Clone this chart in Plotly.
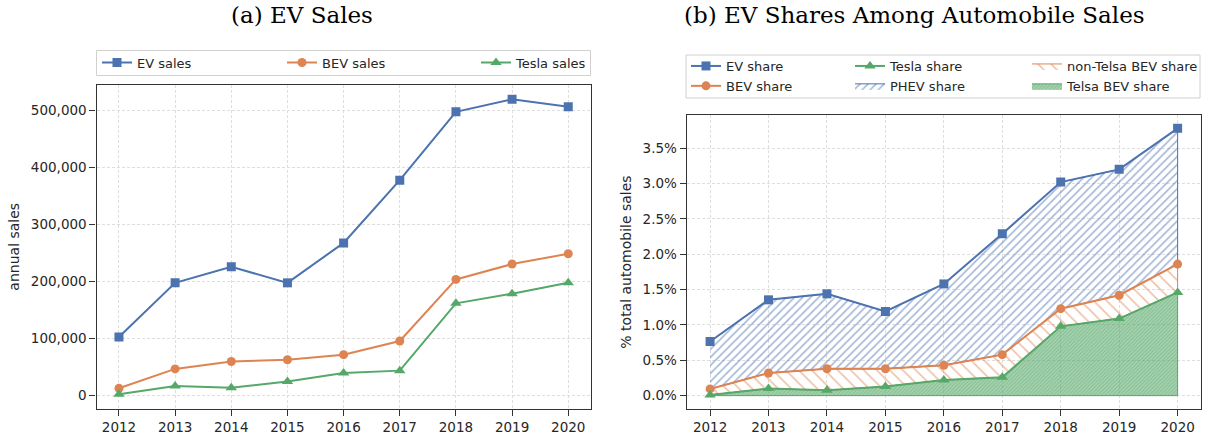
import plotly.graph_objects as go

# ---------------- data ----------------
years = [2012, 2013, 2014, 2015, 2016, 2017, 2018, 2019, 2020]

ev_sales = [103000, 198000, 226000, 198000, 268000, 378000, 498000, 520000, 507000]
bev_sales = [13000, 47000, 60000, 63000, 72000, 96000, 204000, 231000, 249000]
tesla_sales = [2600, 17000, 14000, 25000, 40000, 44000, 162000, 179000, 198000]

# shares as fractions of total automobile sales
ev_share = [0.00765, 0.01355, 0.0144, 0.0119, 0.0158, 0.0229, 0.0302, 0.0320, 0.0378]
bev_share = [0.00095, 0.0032, 0.0038, 0.0038, 0.0043, 0.0058, 0.0123, 0.0142, 0.0186]
tesla_share = [0.0001, 0.0010, 0.00075, 0.0013, 0.0022, 0.0026, 0.0098, 0.0109, 0.0146]
baseline = [0.0] * len(years)

sales_ticks = [0, 100000, 200000, 300000, 400000, 500000]
share_ticks = [0.0, 0.005, 0.010, 0.015, 0.020, 0.025, 0.030, 0.035]

# ---------------- styling ----------------
W, H = 1208, 437
BLUE, ORANGE, GREEN = "#4C72B0", "#DD8452", "#55A868"
TXT = "#262626"
FRAME = "#333333"
FONT = "DejaVu Sans"


def px(x):
    return x / W


def py(y):
    return 1 - y / H


fig = go.Figure()

# ---------- left panel ----------
line_specs = [
    ("EV sales", ev_sales, BLUE, "square", 9, "legend"),
    ("BEV sales", bev_sales, ORANGE, "circle", 9, "legend2"),
    ("Tesla sales", tesla_sales, GREEN, "triangle-up", 10, "legend3"),
]
for name, vals, col, sym, sz, lg in line_specs:
    fig.add_trace(go.Scatter(
        x=years, y=vals, name=name, mode="lines+markers",
        line=dict(color=col, width=2),
        marker=dict(symbol=sym, size=sz, color=col),
        xaxis="x", yaxis="y", legend=lg,
    ))

# ---------- right panel: fills ----------
xs_poly = years + years[::-1]
fig.add_trace(go.Scatter(
    x=xs_poly, y=tesla_share + baseline[::-1], name="Telsa BEV share",
    mode="lines", fill="toself",
    line=dict(color=GREEN, width=1),
    fillcolor="rgba(85,168,104,0.5)",
    fillpattern=dict(shape="/", size=2.6, solidity=0.42, fgcolor=GREEN,
                     bgcolor="rgba(85,168,104,0.5)"),
    xaxis="x2", yaxis="y2", legend="legend6", legendrank=2,
))
fig.add_trace(go.Scatter(
    x=xs_poly, y=bev_share + tesla_share[::-1], name="non-Telsa BEV share",
    mode="lines", fill="toself",
    line=dict(color=ORANGE, width=1),
    fillcolor="rgba(255,255,255,0)",
    fillpattern=dict(shape="\\", size=9.2, solidity=0.18, fgcolor=ORANGE,
                     bgcolor="rgba(255,255,255,0)"),
    xaxis="x2", yaxis="y2", legend="legend6", legendrank=1,
))
fig.add_trace(go.Scatter(
    x=xs_poly, y=ev_share + bev_share[::-1], name="PHEV share",
    mode="lines", fill="toself",
    line=dict(color=BLUE, width=1),
    fillcolor="rgba(255,255,255,0)",
    fillpattern=dict(shape="/", size=5.7, solidity=0.3, fgcolor=BLUE,
                     bgcolor="rgba(255,255,255,0)"),
    xaxis="x2", yaxis="y2", legend="legend5", legendrank=2,
))

# ---------- right panel: lines ----------
share_specs = [
    ("EV share", ev_share, BLUE, "square", 9, "legend4", 1),
    ("BEV share", bev_share, ORANGE, "circle", 9, "legend4", 2),
    ("Tesla share", tesla_share, GREEN, "triangle-up", 10, "legend5", 1),
]
for name, vals, col, sym, sz, lg, rk in share_specs:
    fig.add_trace(go.Scatter(
        x=years, y=vals, name=name, mode="lines+markers",
        line=dict(color=col, width=2),
        marker=dict(symbol=sym, size=sz, color=col),
        xaxis="x2", yaxis="y2", legend=lg, legendrank=rk,
    ))

# ---------------- axes ----------------
common_axis = dict(
    showline=True, linecolor=FRAME, linewidth=1.25, mirror=True,
    ticks="outside", ticklen=6, tickwidth=1.25, tickcolor=FRAME,
    showgrid=True, gridcolor="#dedede", gridwidth=0.8, griddash="3px,2px",
    zeroline=False,
    tickfont=dict(family=FONT, size=13.5, color=TXT),
    title_font=dict(family=FONT, size=14, color=TXT),
)

fig.update_layout(
    xaxis=dict(domain=[px(96.5), px(590.7)], range=[2011.6, 2020.4],
               tickvals=years, anchor="y", **common_axis),
    yaxis=dict(domain=[py(409), py(84.5)], range=[-23300, 545900],
               tickvals=sales_ticks, tickformat=",d", anchor="x",
               title=dict(text="annual sales", standoff=7), **common_axis),
    xaxis2=dict(domain=[px(686.7), px(1201)], range=[2011.6, 2020.4],
                tickvals=years, anchor="y2", **common_axis),
    yaxis2=dict(domain=[py(409), py(115)], range=[-0.00189, 0.03969],
                tickvals=share_ticks, tickformat=".1%",
                anchor="x2",
                title=dict(text="% total automobile sales", standoff=7),
                **common_axis),
)

# ---------------- legends ----------------
leg_common = dict(
    orientation="v", bgcolor="rgba(0,0,0,0)", borderwidth=0,
    font=dict(family=FONT, size=13, color=TXT),
    xanchor="left", yanchor="middle", tracegroupgap=0,
)
fig.update_layout(
    showlegend=True,
    legend=dict(x=px(97), y=py(62.5), **leg_common),
    legend2=dict(x=px(282), y=py(62.5), **leg_common),
    legend3=dict(x=px(476), y=py(62.5), **leg_common),
    legend4=dict(x=px(686), y=py(76), **leg_common),
    legend5=dict(x=px(850), y=py(76), **leg_common),
    legend6=dict(x=px(1027), y=py(76), **leg_common),
)

# legend frames
for (x0, y0, x1, y1) in [(96.5, 50.5, 590.5, 75.5), (686, 55, 1200, 98)]:
    fig.add_shape(type="rect", xref="paper", yref="paper",
                  x0=px(x0), x1=px(x1), y0=py(y1), y1=py(y0),
                  line=dict(color="#d0d0d0", width=1),
                  fillcolor="white", layer="below")

# ---------------- titles ----------------
for text, xc in [("(a) EV Sales", 302), ("(b) EV Shares Among Automobile Sales", 914)]:
    fig.add_annotation(text=text, xref="paper", yref="paper",
                       x=px(xc), y=py(15), xanchor="center", yanchor="middle",
                       showarrow=False,
                       font=dict(family="DejaVu Serif", size=23, color="black"))

fig.update_layout(
    width=W, height=H,
    margin=dict(l=0, r=0, t=0, b=0),
    paper_bgcolor="white", plot_bgcolor="white",
)

fig.write_html(
    "out.html",
    config={"displayModeBar": False},
    post_script="document.body.style.margin='0';document.body.style.overflow='hidden';",
)
